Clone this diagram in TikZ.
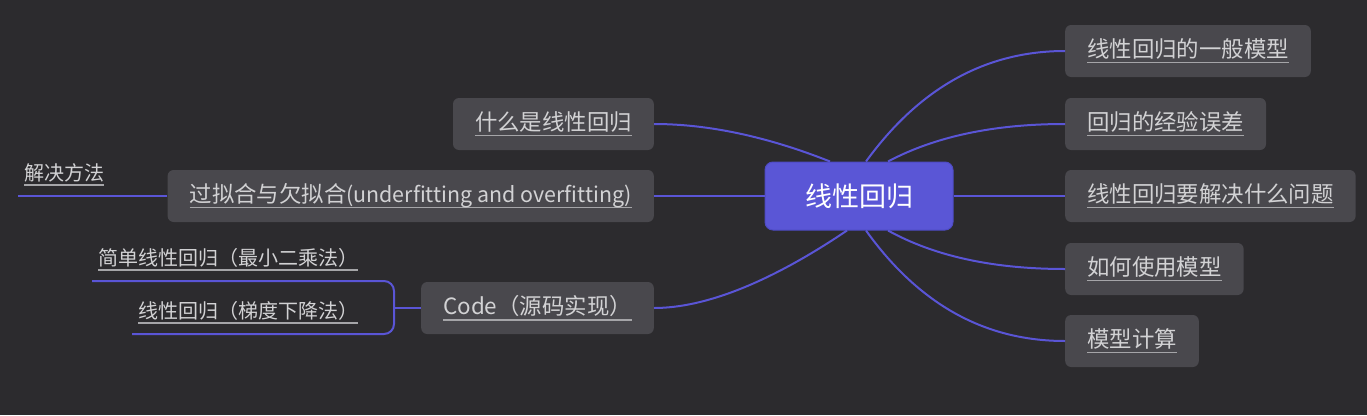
\documentclass[tikz,border=0pt]{standalone}
\usepackage{fontspec}
\setmainfont{Noto Sans CJK SC}
\usetikzlibrary{calc}
\definecolor{bgdark}{RGB}{44,43,46}
\definecolor{boxgray}{RGB}{73,72,77}
\definecolor{linkblue}{RGB}{90,85,214}
\definecolor{rootblue}{RGB}{90,86,214}
\definecolor{rootedge}{RGB}{78,75,196}
\definecolor{txtgray}{RGB}{210,210,212}
\definecolor{ulgray}{RGB}{165,165,168}
\newcommand{\ulined}[1]{\setbox0\hbox{#1}\rlap{\color{ulgray}\rule[-0.26em]{\wd0}{0.07em}}\box0}
\begin{document}
\begin{tikzpicture}[x=1pt,y=-1pt,
    every node/.style={text=txtgray},
    root/.style={fill=rootblue,draw=rootedge,line width=1pt,rounded corners=8pt,
        minimum width=188pt,minimum height=68pt,text=white,
        font=\fontsize{27pt}{32pt}\selectfont},
    branch/.style={fill=boxgray,rounded corners=6pt,minimum height=52pt,
        inner xsep=22pt,inner ysep=0pt,font=\fontsize{22.4pt}{26pt}\selectfont},
    leaf/.style={inner xsep=6pt,inner ysep=10pt,font=\fontsize{20pt}{24pt}\selectfont},
    link/.style={draw=linkblue,line width=2pt}]
                        \fill[bgdark] (0,0) rectangle (1367,415);
                        \useasboundingbox (0,0) rectangle (1367,415);

                        \node[root] (ctr) at (859,196) {线性回归};

                        \node[branch,anchor=west] (r1) at (1065,51) {\ulined{线性回归的一般模型}};
                        \node[branch,anchor=west] (r2) at (1065,124) {\ulined{回归的经验误差}};
                        \node[branch,anchor=west] (r3) at (1065,196) {\ulined{线性回归要解决什么问题}};
                        \node[branch,anchor=west] (r4) at (1065,269) {\ulined{如何使用模型}};
                        \node[branch,anchor=west] (r5) at (1065,341) {\ulined{模型计算}};

                        \node[branch,anchor=east] (l1) at (654,124) {\ulined{什么是线性回归}};
                        \node[branch,anchor=east] (l2) at (654,196) {\ulined{过拟合与欠拟合{\fontsize{21.4pt}{26pt}\selectfont(underfitting and overfitting)}}};
                        \node[branch,anchor=east] (l3) at (654,308) {\ulined{Code（源码实现）}};

                        \node[leaf,anchor=south west] (k1) at (18,196) {\ulined{解决方法}};
                        \node[leaf,anchor=south west] (k2) at (92,281) {\ulined{简单线性回归（最小二乘法）}};
                        \node[leaf,anchor=south west] (k3) at (132,334) {\ulined{线性回归（梯度下降法）}};
                        \coordinate (fork) at (394,308);

                        \draw[link] ($(ctr.north)+(7,0)$) .. controls +(53,-73) and +(-80,0) .. (r1.west);
                        \draw[link] ($(ctr.north)+(29,0)$) .. controls +(47,-25) and +(-71,0) .. (r2.west);
                        \draw[link] (ctr.east) -- (r3.west);
                        \draw[link] ($(ctr.south)+(29,0)$) .. controls +(47,26) and +(-71,0) .. (r4.west);
                        \draw[link] ($(ctr.south)+(7,0)$) .. controls +(53,74) and +(-80,0) .. (r5.west);

                        \draw[link] ($(ctr.north)+(-29,0)$) .. controls +(-63,-25) and +(54,0) .. (l1.east);
                        \draw[link] (ctr.west) -- (l2.east);
                        \draw[link] ($(ctr.south)+(-12,0)$) .. controls +(-77,52) and +(51,0) .. (l3.east);

                        \draw[link] (l2.west) -- (k1.south west);
                        \draw[link] (l3.west) -- (fork);
                        \draw[link,rounded corners=10pt] (k2.south west) -- (k2.south west -| fork) -- (k3.south west -| fork) -- (k3.south west);
                    \end{tikzpicture}
\end{document}
